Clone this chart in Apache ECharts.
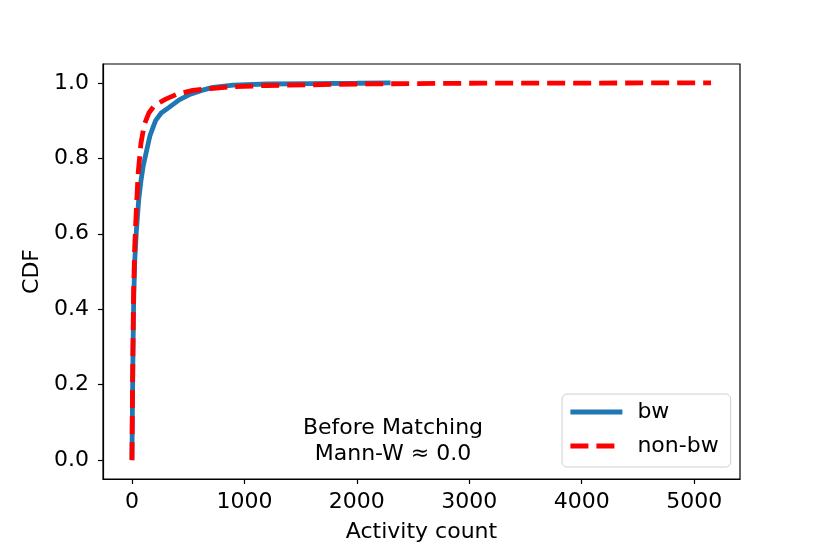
<!DOCTYPE html>
<html>
<head>
<meta charset="utf-8">
<script src="https://cdn.jsdelivr.net/npm/echarts@6/dist/echarts.min.js"></script>
<style>
  html, body { margin: 0; padding: 0; background: #fff; }
  #chart { width: 822px; height: 548px; }
</style>
</head>
<body>
<div id="chart"></div>
<script>
// 数据：CDF 曲线
const bwX = [0, 3, 8, 15, 25, 40, 60, 80, 100, 130, 160, 210, 260, 330, 420, 520, 620, 720, 900, 1200, 1600, 2000, 2300];
const bwY = [0, 0.1, 0.25, 0.42, 0.53, 0.61, 0.69, 0.74, 0.78, 0.82, 0.86, 0.9, 0.92, 0.935, 0.955, 0.97, 0.98, 0.988, 0.994, 0.997, 0.998, 0.999, 1.0];
const nonBwX = [0, 3, 8, 15, 25, 40, 55, 80, 110, 150, 200, 300, 400, 540, 700, 850, 1200, 1600, 2000, 2500, 3000, 4000, 5150];
const nonBwY = [0, 0.12, 0.28, 0.45, 0.57, 0.67, 0.76, 0.84, 0.89, 0.92, 0.94, 0.957, 0.97, 0.98, 0.985, 0.989, 0.993, 0.995, 0.997, 0.998, 0.999, 0.9995, 1.0];
const xTicks = [0, 1000, 2000, 3000, 4000, 5000];
const yTicks = [0, 0.2, 0.4, 0.6, 0.8, 1.0];

const FONT = 'DejaVu Sans';
const FS = 22;

function pairs(xs, ys) {
    return xs.map((x, i) => [x, ys[i]]);
}

const chart = echarts.init(document.getElementById('chart'));
chart.setOption({
    animation: false,
    backgroundColor: '#fff',
    grid: { left: 103, right: 82, top: 64, bottom: 69, show: true, borderColor: '#000', borderWidth: 1.2, backgroundColor: 'transparent' },
    xAxis: {
        type: 'value', min: -257.5, max: 5407.5,
        name: 'Activity count', nameLocation: 'middle', nameGap: 42,
        nameTextStyle: { fontFamily: FONT, fontSize: FS, color: '#000' },
        axisLine: { show: true, onZero: false, lineStyle: { color: '#000', width: 1.2 } },
        axisTick: { show: true, length: 5, customValues: xTicks, lineStyle: { color: '#000', width: 1.2 } },
        axisLabel: { customValues: xTicks, fontFamily: FONT, fontSize: FS, color: '#000', margin: 12, formatter: v => String(v) },
        splitLine: { show: false }
    },
    yAxis: {
        type: 'value', min: -0.05, max: 1.05,
        name: 'CDF', nameLocation: 'middle', nameGap: 60,
        nameTextStyle: { fontFamily: FONT, fontSize: FS, color: '#000' },
        axisLine: { show: true, onZero: false, lineStyle: { color: '#000', width: 1.2 } },
        axisTick: { show: true, length: 5, customValues: yTicks, lineStyle: { color: '#000', width: 1.2 } },
        axisLabel: { customValues: yTicks, fontFamily: FONT, fontSize: FS, color: '#000', margin: 14, formatter: v => v.toFixed(1) },
        splitLine: { show: false }
    },
    legend: {
        left: 562, top: 394, orient: 'vertical',
        padding: [7, 12, 10, 6], itemGap: 12,
        itemWidth: 52, itemHeight: 22,
        itemStyle: { opacity: 0 },
        lineStyle: { width: 4.8 },
        backgroundColor: '#fff', borderColor: '#d0d0d0', borderWidth: 1, borderRadius: 5,
        textStyle: { fontFamily: FONT, fontSize: FS, color: '#000', padding: [0, 0, 0, 10] },
        data: ['bw', 'non-bw']
    },
    graphic: [{
        type: 'text', x: 393, y: 415,
        style: { text: 'Before Matching\nMann-W ≈ 0.0', font: FS + 'px "DejaVu Sans"', fill: '#000', align: 'center', verticalAlign: 'top', lineHeight: 26 }
    }],
    series: [
        {
            name: 'bw', type: 'line', showSymbol: false, symbol: 'none', data: pairs(bwX, bwY),
            lineStyle: { color: '#1f77b4', width: 4.8 }, itemStyle: { color: '#1f77b4' }, z: 2
        },
        {
            name: 'non-bw', type: 'line', showSymbol: false, symbol: 'none', data: pairs(nonBwX, nonBwY),
            lineStyle: { color: '#ff0000', width: 4.8, type: [18, 8] }, itemStyle: { color: '#ff0000' }, z: 3
        }
    ]
});
</script>
</body>
</html>
